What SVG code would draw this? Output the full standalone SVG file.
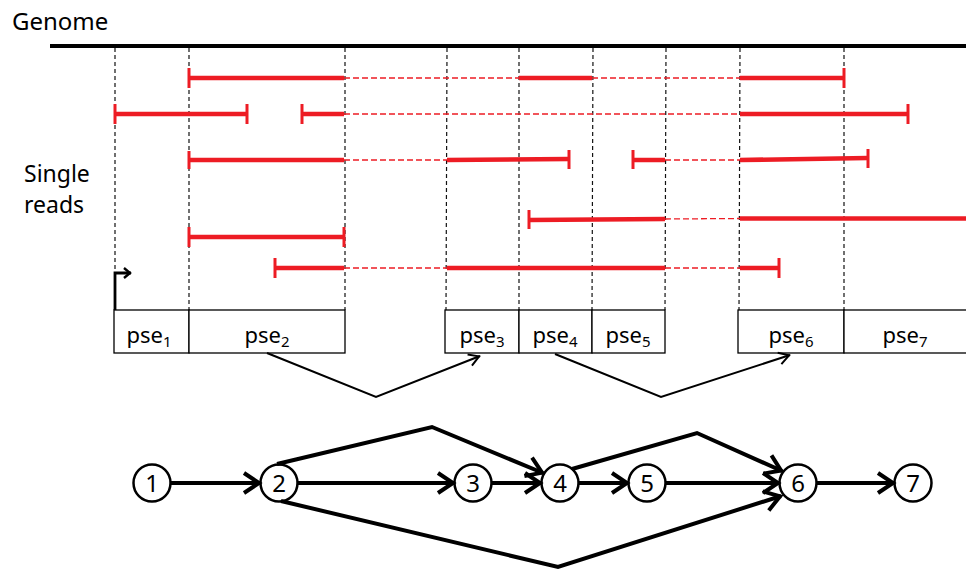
<svg xmlns="http://www.w3.org/2000/svg" width="966" height="570" viewBox="0 0 966 570">
  <style>
    .lbl { font-family: "Noto Sans", "Open Sans", "Liberation Sans", sans-serif; fill: #000; }
    .guide { stroke: #111; stroke-width: 1.2; stroke-dasharray: 4 3; fill: none; }
    .read { stroke: #ED1C24; stroke-width: 4.5; fill: none; }
    .gap { stroke: #ED1C24; stroke-width: 1.3; stroke-dasharray: 6 3; fill: none; }
    .end { stroke: #ED1C24; stroke-width: 3; fill: none; }
    .box { fill: #fff; stroke: #000; stroke-width: 1.3; }
    .pse { font-size: 22px; }
    .sub { font-size: 15px; }
    .node circle { fill: #fff; stroke: #000; stroke-width: 2.5; }
    .node text { font-size: 24px; }
    .edge { stroke: #000; stroke-width: 4; fill: none; marker-end: url(#chev); }
    .link { stroke: #000; stroke-width: 2; fill: none; marker-end: url(#chevSmall); }
  </style>
  <defs>
    <marker id="chev" markerUnits="userSpaceOnUse" viewBox="-20 -14 24 28" refX="0" refY="0" markerWidth="24" markerHeight="28" orient="auto" overflow="visible">
      <path d="M-16,-10 L-1,0 L-16,10" stroke="#000" stroke-width="4" fill="none"/>
    </marker>
    <marker id="chevSmall" markerUnits="userSpaceOnUse" viewBox="-14 -10 18 20" refX="0" refY="0" markerWidth="18" markerHeight="20" orient="auto" overflow="visible">
      <path d="M-11,-6 L-1,0 L-11,6" stroke="#000" stroke-width="2" fill="none"/>
    </marker>
    <marker id="chevTss" markerUnits="userSpaceOnUse" viewBox="-12 -8 16 16" refX="0" refY="0" markerWidth="16" markerHeight="16" orient="auto" overflow="visible">
      <path d="M-7,-5 L-1,0 L-7,5" stroke="#000" stroke-width="2.4" fill="none"/>
    </marker>
  </defs>

  <!-- genome axis -->
  <text class="lbl" x="12" y="30" font-size="24">Genome</text>
  <line x1="50" y1="46" x2="966" y2="46" stroke="#000" stroke-width="4"/>

  <!-- segment boundaries -->
  <g id="boundaries">
    <line class="guide" x1="115" y1="48" x2="115" y2="310"/>
    <line class="guide" x1="189" y1="48" x2="189" y2="310"/>
    <line class="guide" x1="345" y1="48" x2="345" y2="310"/>
    <line class="guide" x1="447" y1="48" x2="446" y2="310"/>
    <line class="guide" x1="519" y1="48" x2="519" y2="310"/>
    <line class="guide" x1="593" y1="48" x2="592" y2="310"/>
    <line class="guide" x1="666" y1="48" x2="665" y2="310"/>
    <line class="guide" x1="740" y1="48" x2="739" y2="310"/>
    <line class="guide" x1="844" y1="48" x2="844" y2="310"/>
  </g>

  <text class="lbl" x="24" y="182" font-size="23">Single</text>
  <text class="lbl" x="24" y="213" font-size="23">reads</text>

  <!-- single reads: solid = aligned part, dashed = spliced gap -->
  <g id="reads">
    <!-- read 1 -->
    <line class="end" x1="189" y1="68" x2="189" y2="88"/>
    <line class="read" x1="189" y1="78" x2="344" y2="78"/>
    <line class="gap" x1="344" y1="78" x2="519" y2="78"/>
    <line class="read" x1="519" y1="78" x2="592" y2="78"/>
    <line class="gap" x1="592" y1="78" x2="740" y2="78"/>
    <line class="read" x1="740" y1="78" x2="844" y2="78"/>
    <line class="end" x1="844" y1="68" x2="844" y2="88"/>
    <!-- read 2 -->
    <line class="end" x1="115" y1="104" x2="115" y2="124"/>
    <line class="read" x1="115" y1="114" x2="247" y2="114"/>
    <line class="end" x1="247" y1="104" x2="247" y2="124"/>
    <line class="end" x1="302" y1="104" x2="302" y2="124"/>
    <line class="read" x1="302" y1="114" x2="344" y2="114"/>
    <line class="gap" x1="344" y1="114" x2="740" y2="114"/>
    <line class="read" x1="740" y1="114" x2="908" y2="114"/>
    <line class="end" x1="908" y1="104" x2="908" y2="124"/>
    <!-- read 3 -->
    <line class="end" x1="189" y1="151" x2="189" y2="169"/>
    <line class="read" x1="189" y1="160" x2="344" y2="160"/>
    <line class="gap" x1="344" y1="160" x2="447" y2="160"/>
    <line class="read" x1="447" y1="160" x2="569" y2="159"/>
    <line class="end" x1="569" y1="150" x2="569" y2="169"/>
    <line class="end" x1="633" y1="150" x2="633" y2="169"/>
    <line class="read" x1="633" y1="160" x2="665" y2="160"/>
    <line class="gap" x1="665" y1="160" x2="740" y2="160"/>
    <line class="read" x1="740" y1="160" x2="868" y2="158"/>
    <line class="end" x1="868" y1="149" x2="868" y2="168"/>
    <!-- read 4 -->
    <line class="end" x1="529" y1="210" x2="529" y2="229"/>
    <line class="read" x1="529" y1="220" x2="665" y2="219"/>
    <line class="gap" x1="665" y1="219" x2="740" y2="218.5"/>
    <line class="read" x1="740" y1="218.5" x2="966" y2="218.5"/>
    <!-- read 5 -->
    <line class="end" x1="189" y1="227" x2="189" y2="247"/>
    <line class="read" x1="189" y1="237" x2="344" y2="237"/>
    <line class="end" x1="344" y1="227" x2="344" y2="247"/>
    <!-- read 6 -->
    <line class="end" x1="275" y1="258" x2="275" y2="278"/>
    <line class="read" x1="275" y1="268" x2="344" y2="268"/>
    <line class="gap" x1="344" y1="268" x2="447" y2="268"/>
    <line class="read" x1="447" y1="268" x2="665" y2="268"/>
    <line class="gap" x1="665" y1="268" x2="740" y2="268"/>
    <line class="read" x1="740" y1="268" x2="779" y2="268"/>
    <line class="end" x1="779" y1="258" x2="779" y2="278"/>
  </g>

  <!-- transcription start -->
  <path d="M115,310 V273 H131" stroke="#000" stroke-width="2.8" fill="none" marker-end="url(#chevTss)"/>

  <!-- pseudo-exons -->
  <g id="pse1"><rect class="box" x="114" y="310" width="75" height="43"/><text class="lbl pse" x="149" y="343" text-anchor="middle">pse<tspan class="sub" dy="4">1</tspan></text></g>
  <g id="pse2"><rect class="box" x="189" y="310" width="156" height="43"/><text class="lbl pse" x="267" y="343" text-anchor="middle">pse<tspan class="sub" dy="4">2</tspan></text></g>
  <g id="pse3"><rect class="box" x="445" y="310" width="74" height="43"/><text class="lbl pse" x="482" y="343" text-anchor="middle">pse<tspan class="sub" dy="4">3</tspan></text></g>
  <g id="pse4"><rect class="box" x="519" y="310" width="73" height="43"/><text class="lbl pse" x="555" y="343" text-anchor="middle">pse<tspan class="sub" dy="4">4</tspan></text></g>
  <g id="pse5"><rect class="box" x="592" y="310" width="73" height="43"/><text class="lbl pse" x="628" y="343" text-anchor="middle">pse<tspan class="sub" dy="4">5</tspan></text></g>
  <g id="pse6"><rect class="box" x="738" y="310" width="106" height="43"/><text class="lbl pse" x="791" y="343" text-anchor="middle">pse<tspan class="sub" dy="4">6</tspan></text></g>
  <g id="pse7"><rect class="box" x="844" y="310" width="126" height="43"/><text class="lbl pse" x="905" y="343" text-anchor="middle">pse<tspan class="sub" dy="4">7</tspan></text></g>

  <!-- splice graph nodes -->
  <g id="n1" class="node"><circle cx="152" cy="483" r="18.5"/><text class="lbl" x="152" y="492" text-anchor="middle">1</text></g>
  <g id="n2" class="node"><circle cx="279" cy="483" r="18.5"/><text class="lbl" x="279" y="492" text-anchor="middle">2</text></g>
  <g id="n3" class="node"><circle cx="473" cy="483" r="18.5"/><text class="lbl" x="473" y="492" text-anchor="middle">3</text></g>
  <g id="n4" class="node"><circle cx="560" cy="483" r="18.5"/><text class="lbl" x="560" y="492" text-anchor="middle">4</text></g>
  <g id="n5" class="node"><circle cx="647" cy="483" r="18.5"/><text class="lbl" x="647" y="492" text-anchor="middle">5</text></g>
  <g id="n6" class="node"><circle cx="798" cy="483" r="18.5"/><text class="lbl" x="798" y="492" text-anchor="middle">6</text></g>
  <g id="n7" class="node"><circle cx="913" cy="483" r="18.5"/><text class="lbl" x="913" y="492" text-anchor="middle">7</text></g>

  <!-- connectors -->
  <g id="connectors">
    <polyline class="link" points="267,353 376,397 480,356"/>
    <polyline class="link" points="555,354 661,397 790,355"/>
    <line class="edge" x1="171" y1="483" x2="260" y2="483"/>
    <line class="edge" x1="298" y1="483" x2="454" y2="483"/>
    <line class="edge" x1="492" y1="483" x2="541" y2="483"/>
    <line class="edge" x1="579" y1="483" x2="628" y2="483"/>
    <line class="edge" x1="666" y1="483" x2="779" y2="483"/>
    <line class="edge" x1="817" y1="483" x2="894" y2="483"/>
    <polyline class="edge" points="277,464 432,427 543,473"/>
    <polyline class="edge" points="281,501 558,567 781,496"/>
    <polyline class="edge" points="572,469 697,433 782,471"/>
  </g>
</svg>
